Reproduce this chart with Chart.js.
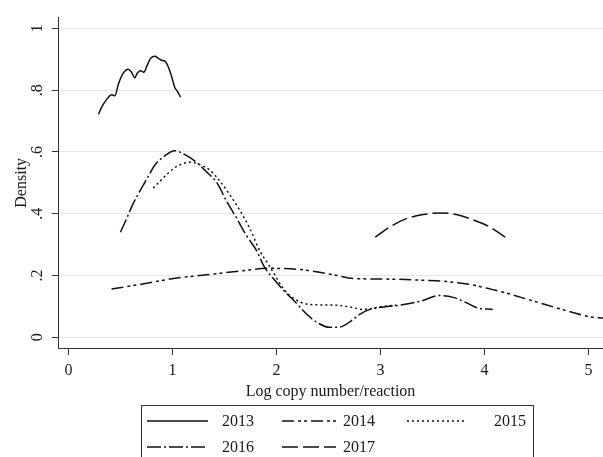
<!DOCTYPE html>
<html>
<head>
<meta charset="utf-8">
<script src="https://cdn.jsdelivr.net/npm/chart.js@4.4.0/dist/chart.umd.min.js"></script>
<style>
  html, body { margin: 0; padding: 0; background: #fff; }
  canvas { display: block; }
</style>
</head>
<body>
<canvas id="densityChart" width="603" height="457"></canvas>
<script>
// axis ticks
var xTicks = [0, 1, 2, 3, 4, 5];
var yTicks = [0, 0.2, 0.4, 0.6, 0.8, 1];
var yTickLabels = ['0', '.2', '.4', '.6', '.8', '1'];

// kernel density curves
var x2013 = [0.29, 0.32, 0.37, 0.415, 0.447, 0.48, 0.527, 0.575, 0.607, 0.639, 0.662, 0.694, 0.726, 0.752, 0.79, 0.832, 0.864, 0.896, 0.928, 0.96, 0.992, 1.024, 1.046, 1.079];
var d2013 = [0.722, 0.745, 0.771, 0.785, 0.782, 0.819, 0.855, 0.868, 0.858, 0.84, 0.855, 0.863, 0.858, 0.876, 0.903, 0.91, 0.903, 0.897, 0.894, 0.876, 0.845, 0.808, 0.798, 0.777];

var x2014 = [0.415, 0.69, 1.01, 1.33, 1.65, 1.91, 2.23, 2.55, 2.74, 3.09, 3.44, 3.64, 3.89, 4.08, 4.21, 4.53, 4.85, 5.01, 5.14];
var d2014 = [0.156, 0.171, 0.19, 0.202, 0.214, 0.223, 0.219, 0.202, 0.19, 0.188, 0.184, 0.18, 0.169, 0.154, 0.143, 0.111, 0.08, 0.066, 0.062];

var x2015 = [0.815, 0.91, 1.01, 1.10, 1.18, 1.26, 1.36, 1.46, 1.55, 1.65, 1.745, 1.84, 1.92, 1.97, 2.065, 2.16, 2.32, 2.55, 2.71, 2.83, 3.03, 3.15];
var d2015 = [0.483, 0.515, 0.546, 0.562, 0.567, 0.559, 0.541, 0.504, 0.462, 0.41, 0.352, 0.28, 0.237, 0.21, 0.158, 0.127, 0.106, 0.104, 0.0975, 0.09, 0.10, 0.104];

var x2016 = [0.50, 0.56, 0.62, 0.69, 0.76, 0.83, 0.93, 1.02, 1.12, 1.23, 1.33, 1.43, 1.52, 1.62, 1.71, 1.81, 1.88, 1.97, 2.08, 2.19, 2.29, 2.39, 2.51, 2.61, 2.72, 2.80, 2.90, 3.03, 3.19, 3.38, 3.57, 3.70, 3.83, 3.93, 4.08];
var d2016 = [0.34, 0.384, 0.431, 0.475, 0.516, 0.557, 0.588, 0.604, 0.591, 0.567, 0.535, 0.499, 0.441, 0.384, 0.33, 0.28, 0.23, 0.19, 0.148, 0.111, 0.075, 0.048, 0.032, 0.033, 0.053, 0.074, 0.09, 0.098, 0.104, 0.116, 0.135, 0.129, 0.111, 0.095, 0.09];

var x2017 = [2.95, 3.09, 3.25, 3.41, 3.57, 3.73, 3.89, 4.05, 4.20];
var d2017 = [0.324, 0.357, 0.384, 0.397, 0.4025, 0.397, 0.38, 0.357, 0.324];

function toPoints(xs, ys) {
    var pts = [];
    for (var i = 0; i < xs.length; i++) {
        pts.push({ x: xs[i], y: ys[i] });
    }
    return pts;
}

function series(label, xs, ys, dash) {
    return {
        label: label,
        data: toPoints(xs, ys),
        borderColor: '#111',
        borderWidth: 1.5,
        borderDash: dash,
        pointRadius: 0,
        fill: false,
        cubicInterpolationMode: 'monotone'
    };
}

// legend drawn inside a framed box below the axis, like the Stata one
var boxLegend = {
    id: 'boxLegend',
    afterDraw: function (chart) {
        var ctx = chart.ctx;
        var cols = [
            { line: 147, len: 61, text: 222 },
            { line: 282, len: 54, text: 343 },
            { line: 407, len: 57, text: 494 }
        ];
        var rows = [421, 447];
        ctx.save();
        ctx.strokeStyle = '#333';
        ctx.lineWidth = 1;
        ctx.strokeRect(141.5, 405.5, 392, 80);
        chart.data.datasets.forEach(function (ds, i) {
            var c = cols[i % 3];
            var y = rows[Math.floor(i / 3)];
            ctx.setLineDash(ds.borderDash || []);
            ctx.strokeStyle = ds.borderColor;
            ctx.lineWidth = ds.borderWidth;
            ctx.beginPath();
            ctx.moveTo(c.line, y);
            ctx.lineTo(c.line + c.len, y);
            ctx.stroke();
            ctx.setLineDash([]);
            ctx.fillStyle = '#1a1a1a';
            ctx.font = '16px "Liberation Serif"';
            ctx.textBaseline = 'middle';
            ctx.fillText(ds.label, c.text, y + 1);
        });
        ctx.restore();
    }
};

Chart.defaults.font.family = '"Liberation Serif", "Times New Roman", serif';
Chart.defaults.font.size = 16;
Chart.defaults.color = '#1a1a1a';

var ctx = document.getElementById('densityChart').getContext('2d');
var densityChart = new Chart(ctx, {
    type: 'line',
    data: {
        datasets: [
            series('2013', x2013, d2013, []),
            series('2014', x2014, d2014, [12, 4, 3, 3, 3, 4]),
            series('2015', x2015, d2015, [2, 3]),
            series('2016', x2016, d2016, [14, 3, 2, 3]),
            series('2017', x2017, d2017, [16, 5])
        ]
    },
    options: {
        responsive: false,
        animation: false,
        devicePixelRatio: 1,
        layout: { padding: { top: 8, right: 0, bottom: 54, left: 0 } },
        plugins: {
            legend: { display: false },
            tooltip: { enabled: false }
        },
        scales: {
            x: {
                type: 'linear',
                min: -0.1,
                max: 5.14,
                afterBuildTicks: function (scale) {
                    scale.ticks = xTicks.map(function (v) { return { value: v }; });
                },
                afterFit: function (scale) { scale.height = 55; },
                grid: { drawOnChartArea: false, tickLength: 7, tickColor: '#333' },
                border: { color: '#333', width: 1 },
                ticks: { padding: 6, maxRotation: 0 },
                title: {
                    display: true,
                    text: 'Log copy number/reaction',
                    padding: { top: 0, bottom: 2 }
                }
            },
            y: {
                type: 'linear',
                min: -0.035,
                max: 1.035,
                afterBuildTicks: function (scale) {
                    scale.ticks = yTicks.map(function (v) { return { value: v }; });
                },
                afterFit: function (scale) { scale.width = 58; },
                grid: { color: '#e6e6e6', lineWidth: 1, tickLength: 6, tickColor: '#333' },
                border: { color: '#333', width: 1 },
                ticks: {
                    minRotation: 90,
                    maxRotation: 90,
                    crossAlign: 'center',
                    padding: 8,
                    callback: function (value, index) { return yTickLabels[index]; }
                },
                title: {
                    display: true,
                    text: 'Density',
                    padding: { top: 12, bottom: 0 }
                }
            }
        }
    },
    plugins: [boxLegend]
});
</script>
</body>
</html>
